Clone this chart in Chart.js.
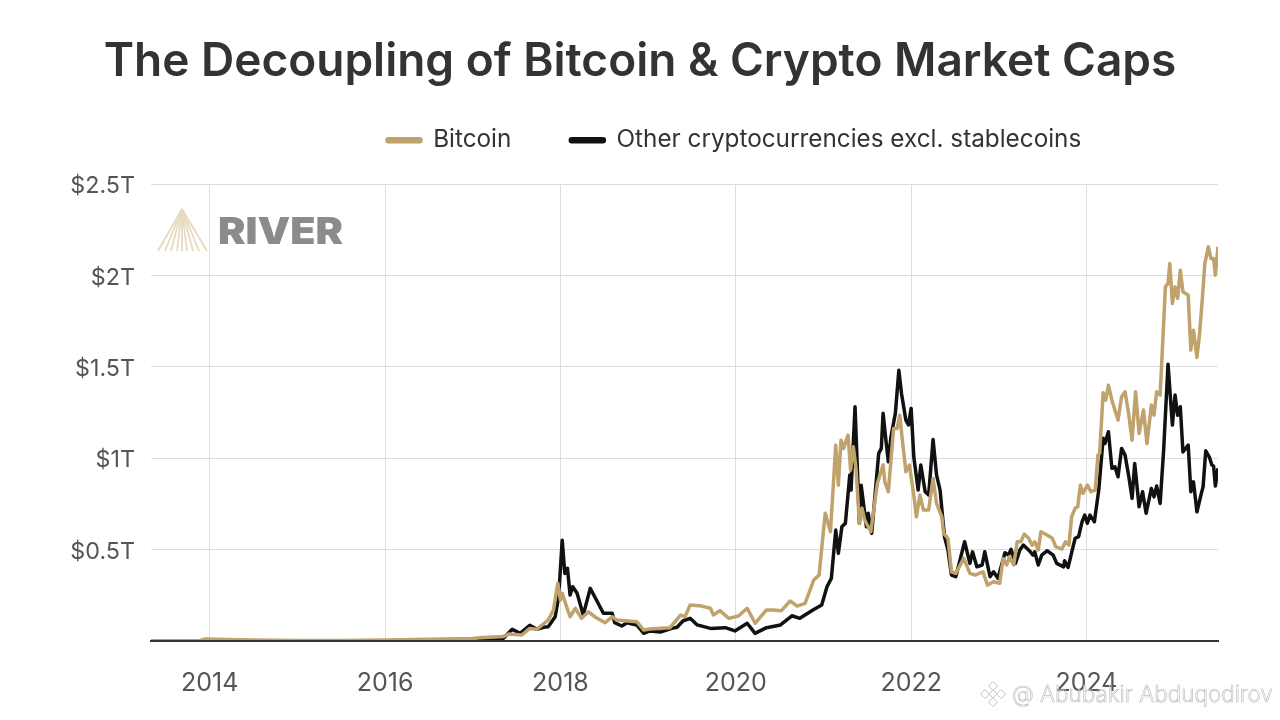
<!DOCTYPE html>
<html><head><meta charset="utf-8">
<style>html,body{margin:0;padding:0;background:#fff}canvas{display:block}</style>
<script src="https://cdn.jsdelivr.net/npm/chart.js@4/dist/chart.umd.min.js"></script>
</head><body>
<canvas id="c" width="1280" height="720" style="width:1280px;height:720px"></canvas>
<script>
const chartTitle = "The Decoupling of Bitcoin & Crypto Market Caps";
const seriesNames = ["Bitcoin", "Other cryptocurrencies excl. stablecoins"];
const xTickYears = [2014, 2016, 2018, 2020, 2022, 2024];
const yTickValues = [0, 0.5, 1, 1.5, 2, 2.5];
const btcYears = [2013.33,2013.88,2013.95,2014.2,2014.5,2015,2015.5,2016,2016.5,2017,2017.08,2017.35,2017.41,2017.56,2017.65,2017.73,2017.86,2017.92,2017.97,2018.00,2018.02,2018.07,2018.11,2018.17,2018.24,2018.32,2018.40,2018.51,2018.59,2018.64,2018.87,2018.95,2019.02,2019.25,2019.37,2019.42,2019.48,2019.61,2019.71,2019.745,2019.82,2019.92,2020.03,2020.13,2020.22,2020.35,2020.43,2020.52,2020.62,2020.70,2020.79,2020.89,2020.95,2021.02,2021.08,2021.14,2021.17,2021.20,2021.23,2021.28,2021.31,2021.34,2021.37,2021.41,2021.44,2021.47,2021.54,2021.615,2021.68,2021.70,2021.74,2021.80,2021.84,2021.87,2021.90,2021.94,2021.98,2022.03,2022.06,2022.10,2022.14,2022.20,2022.25,2022.29,2022.35,2022.37,2022.42,2022.46,2022.51,2022.60,2022.67,2022.73,2022.82,2022.87,2022.94,2023.01,2023.05,2023.09,2023.12,2023.17,2023.21,2023.25,2023.29,2023.34,2023.38,2023.41,2023.45,2023.48,2023.55,2023.61,2023.65,2023.72,2023.76,2023.80,2023.83,2023.87,2023.90,2023.93,2023.96,2024.01,2024.05,2024.10,2024.13,2024.15,2024.19,2024.22,2024.25,2024.29,2024.33,2024.36,2024.40,2024.44,2024.48,2024.52,2024.56,2024.60,2024.65,2024.69,2024.74,2024.77,2024.80,2024.84,2024.88,2024.90,2024.93,2024.95,2024.98,2025.01,2025.04,2025.07,2025.10,2025.16,2025.19,2025.22,2025.26,2025.29,2025.32,2025.35,2025.39,2025.42,2025.45,2025.47,2025.50];
const btcValues = [.001,.002,.011,.008,.006,.003,.003,.006,.01,.014,.018,.025,.038,.033,.069,.064,.115,.170,.316,.224,.261,.188,.133,.179,.124,.160,.130,.100,.133,.115,.106,.060,.066,.073,.142,.133,.197,.191,.179,.142,.166,.124,.137,.179,.097,.170,.170,.166,.219,.191,.206,.334,.361,.699,.598,1.072,.853,1.099,1.054,1.127,.935,1.063,.953,.644,.726,.662,.598,.863,.963,.871,.817,1.163,1.163,1.236,1.099,.926,.963,.799,.680,.799,.717,.717,.890,.753,.680,.589,.562,.379,.370,.452,.370,.361,.379,.306,.324,.316,.452,.416,.461,.416,.543,.543,.585,.562,.525,.543,.498,.598,.580,.562,.516,.503,.543,.525,.680,.726,.735,.853,.808,.853,.817,.826,1.017,1.027,1.358,1.318,1.400,1.318,1.254,1.209,1.336,1.364,1.246,1.099,1.364,1.136,1.264,1.081,1.291,1.236,1.364,1.346,1.738,1.938,1.957,2.066,1.847,1.938,1.875,2.029,1.911,1.893,1.592,1.701,1.552,1.683,1.865,2.066,2.157,2.093,2.093,2.002,2.157];
const otherYears = [2013.33,2014,2016,2016.9,2017.2,2017.35,2017.45,2017.54,2017.65,2017.73,2017.81,2017.86,2017.94,2017.98,2018.02,2018.05,2018.08,2018.11,2018.14,2018.19,2018.26,2018.34,2018.40,2018.49,2018.59,2018.62,2018.70,2018.76,2018.87,2018.95,2019.02,2019.14,2019.27,2019.33,2019.40,2019.48,2019.56,2019.71,2019.88,2019.99,2020.13,2020.22,2020.35,2020.51,2020.64,2020.73,2020.88,2020.98,2021.04,2021.09,2021.14,2021.17,2021.21,2021.25,2021.30,2021.315,2021.36,2021.41,2021.43,2021.49,2021.51,2021.55,2021.63,2021.66,2021.68,2021.71,2021.74,2021.77,2021.82,2021.86,2021.89,2021.94,2021.97,2022.00,2022.03,2022.08,2022.11,2022.16,2022.20,2022.25,2022.29,2022.33,2022.38,2022.42,2022.46,2022.51,2022.61,2022.67,2022.70,2022.75,2022.81,2022.84,2022.90,2022.94,2022.99,2023.07,2023.11,2023.14,2023.19,2023.24,2023.28,2023.36,2023.39,2023.41,2023.45,2023.49,2023.55,2023.62,2023.66,2023.74,2023.75,2023.79,2023.87,2023.91,2023.95,2023.98,2024.01,2024.04,2024.09,2024.14,2024.19,2024.21,2024.25,2024.29,2024.325,2024.36,2024.40,2024.44,2024.48,2024.52,2024.55,2024.60,2024.64,2024.68,2024.74,2024.77,2024.80,2024.84,2024.88,2024.93,2024.98,2025.01,2025.04,2025.07,2025.10,2025.16,2025.19,2025.22,2025.26,2025.31,2025.33,2025.36,2025.40,2025.43,2025.45,2025.47,2025.50];
const otherValues = [.0005,.001,.001,.002,.005,.015,.064,.042,.086,.064,.075,.078,.133,.242,.552,.370,.398,.252,.297,.261,.142,.288,.234,.152,.152,.100,.082,.100,.088,.042,.055,.049,.069,.075,.111,.124,.088,.069,.073,.055,.097,.042,.073,.088,.138,.124,.170,.197,.297,.343,.607,.480,.625,.644,.908,.826,1.282,.644,.853,.625,.699,.589,1.027,1.054,1.246,1.109,.981,1.118,1.246,1.482,1.355,1.209,1.182,1.273,1.008,.826,.963,.817,.799,1.103,.908,.826,.571,.498,.361,.352,.543,.425,.488,.406,.416,.488,.352,.379,.343,.483,.470,.502,.425,.498,.525,.488,.470,.488,.416,.470,.494,.470,.425,.406,.439,.403,.562,.571,.653,.689,.644,.689,.653,.826,1.109,1.081,1.145,.945,.953,.899,1.054,1.017,.908,.781,.972,.735,.817,.699,.835,.789,.848,.753,1.045,1.515,1.182,1.346,1.236,1.282,1.035,1.072,.817,.871,.707,.808,.844,1.041,1.008,.963,.957,.848,.945];
const gold = "#BFA26C", ink = "#111111";
const zip = (xs, ys) => xs.map((x, i) => ({x, y: ys[i]}));

const decor = {
  id: "decor",
  beforeLayout(chart) {
    const l = chart.legend;
    if (!l._wrapped) {
      const fit = l.fit;
      l.fit = function () { fit.call(this); this.height = 0; };
      l._wrapped = true;
    }
  },
  afterLayout(chart) {
    chart.titleBlock.left = 0; chart.titleBlock.right = 1280;
    const l = chart.legend;
    l.left = 387 - 59; l.right = 1280; l.top = 128 - 59; l.bottom = 180;
  },
  beforeDatasetsDraw(chart) {
    const ctx = chart.ctx;
    ctx.save();
    ctx.strokeStyle = "#e6dabf"; ctx.lineWidth = 1.8;
    for (const b of [158, 165, 171, 177, 182, 187, 193, 199, 207]) {
      ctx.beginPath(); ctx.moveTo(182, 209); ctx.lineTo(b, 251); ctx.stroke();
    }
    ctx.fillStyle = "#8b8b8b"; ctx.font = "900 37px Inter";
    ctx.textBaseline = "alphabetic";
    const w = ctx.measureText("RIVER").width;
    ctx.translate(218, 244);
    ctx.scale(125 / w, 1);
    ctx.fillText("RIVER", 0, 0);
    ctx.restore();
  },
  afterDraw(chart) {
    const ctx = chart.ctx;
    ctx.save();
    ctx.strokeStyle = "#c4c4c4"; ctx.lineWidth = 1;
    const cx = 993, cy = 694;
    for (const [dx, dy, r] of [[0,-8,4.5],[-8,0,4.5],[8,0,4.5],[0,0,4],[0,8,4.5]]) {
      ctx.beginPath();
      ctx.moveTo(cx+dx, cy+dy-r); ctx.lineTo(cx+dx+r, cy+dy); ctx.lineTo(cx+dx, cy+dy+r); ctx.lineTo(cx+dx-r, cy+dy); ctx.closePath();
      ctx.stroke();
    }
    ctx.font = "300 22.4px Inter"; ctx.textBaseline = "alphabetic"; ctx.lineWidth = 0.7;
    ctx.strokeStyle = "#c2c2c2";
    ctx.strokeText("@ Abubakir Abduqodirov", 1012, 702);
    ctx.restore();
  }
};

new Chart(document.getElementById("c"), {
  type: "line",
  data: {
    datasets: [
      {label: seriesNames[0], data: zip(btcYears, btcValues), borderColor: gold, backgroundColor: gold, borderWidth: 3.5, pointRadius: 0, tension: 0, borderJoinStyle: "round"},
      {label: seriesNames[1], data: zip(otherYears, otherValues), borderColor: ink, backgroundColor: ink, borderWidth: 3.5, pointRadius: 0, tension: 0, borderJoinStyle: "round"}
    ]
  },
  options: {
    responsive: false, animation: false, devicePixelRatio: 1,
    layout: {padding: {left: 0, right: 62, top: 0, bottom: 0}},
    plugins: {
      tooltip: {enabled: false},
      title: {display: true, text: chartTitle, color: "#333333", font: {family: "Inter", size: 46, weight: "600"}, padding: {top: 35, bottom: 94}},
      legend: {
        display: true, position: "top", align: "start",
        labels: {
          boxWidth: 34, boxHeight: 3, padding: 59, color: "#333333",
          useBorderRadius: true, borderRadius: 1.5,
          font: {family: "Inter", size: 24.3, weight: "400"}
        }
      }
    },
    scales: {
      x: {
        type: "linear", min: 2013.33, max: 2025.5,
        afterBuildTicks: s => { s.ticks = xTickYears.map(v => ({value: v})); },
        afterFit: s => { s.height = 79; },
        grid: {color: "#dddddd", lineWidth: 1, drawTicks: false},
        border: {color: "#333333", width: 2, z: 1},
        ticks: {color: "#555555", font: {family: "Inter", size: 25}, padding: 27, maxRotation: 0, autoSkip: false, callback: v => String(v)}
      },
      y: {
        type: "linear", min: 0, max: 2.5,
        afterBuildTicks: s => { s.ticks = yTickValues.map(v => ({value: v})); },
        afterFit: s => { s.width = 151; },
        grid: {color: "#dddddd", lineWidth: 1, drawTicks: false},
        border: {display: false},
        ticks: {color: "#555555", font: {family: "Inter", size: 23.3}, padding: 16, labelOffset: 2, callback: v => v === 0 ? "" : "$" + v + "T"}
      }
    }
  },
  plugins: [decor]
});
</script>
</body></html>
